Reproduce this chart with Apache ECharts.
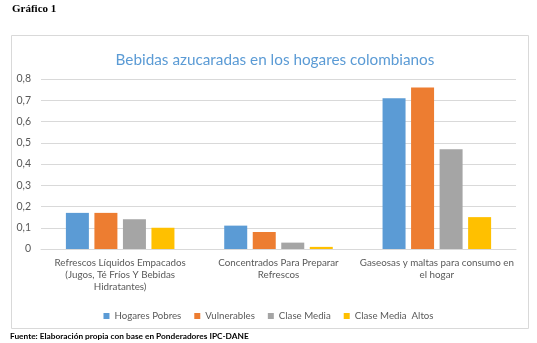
<!DOCTYPE html>
<html><head><meta charset="utf-8">
<script src="https://cdn.jsdelivr.net/npm/echarts@6/dist/echarts.min.js"></script>
<style>html,body{margin:0;padding:0;background:#fff}#c{width:537px;height:343px}</style>
</head><body><div id="c"></div>
<script>
const categories = ["Refrescos Líquidos Empacados\n(Jugos, Té Fríos Y Bebidas\nHidratantes)", "Concentrados Para Preparar\nRefrescos", "Gaseosas y maltas para consumo en\nel hogar"];
const seriesNames = ["Hogares Pobres", "Vulnerables", "Clase Media", "Clase Media  Altos"];
const hogaresPobres = [0.17, 0.11, 0.71];
const vulnerables = [0.17, 0.08, 0.76];
const claseMedia = [0.14, 0.03, 0.47];
const claseMediaAltos = [0.10, 0.01, 0.15];
const colors = ["#5B9BD5", "#ED7D31", "#A5A5A5", "#FFC000"];
const values = [hogaresPobres, vulnerables, claseMedia, claseMediaAltos];

const chart = echarts.init(document.getElementById('c'), null, {renderer: 'canvas'});
const font = "Lato, Open Sans, sans-serif";
chart.setOption({
  animation: false,
  title: {
    text: "Bebidas azucaradas en los hogares colombianos",
    left: 270, top: 48, textAlign: 'center',
    textStyle: {color: '#5B9BD5', fontSize: 15.3, fontWeight: 'normal', fontFamily: font}
  },
  graphic: [
    {type: 'rect', shape: {x: 11.5, y: 35.5, width: 517, height: 293}, style: {fill: 'none', stroke: '#D9D9D9', lineWidth: 1}, z: -1},
    {type: 'text', left: 12, top: 4, style: {text: 'Gráfico 1', font: 'bold 11px "Liberation Serif", serif', fill: '#000'}},
    {type: 'text', left: 10, top: 332, style: {text: 'Fuente: Elaboración propia con base en Ponderadores IPC-DANE', font: 'bold 8.3px Lato, sans-serif', fill: '#000'}}
  ],
  legend: {
    data: seriesNames, top: 306, left: 'center', itemWidth: 6, itemHeight: 6, itemGap: 13,
    icon: 'rect',
    textStyle: {color: '#595959', fontSize: 9.7, fontFamily: font}
  },
  grid: {left: 41, right: 21, top: 79, bottom: 94, containLabel: false},
  xAxis: {
    type: 'category', data: categories,
    axisLine: {lineStyle: {color: '#D9D9D9'}}, axisTick: {show: false},
    axisLabel: {interval: 0, color: '#595959', fontSize: 9.8, fontFamily: font, lineHeight: 12, margin: 8}
  },
  yAxis: {
    type: 'value', min: 0, max: 0.8, interval: 0.1,
    axisLine: {show: false}, axisTick: {show: false},
    splitLine: {lineStyle: {color: '#D9D9D9'}},
    axisLabel: {color: '#595959', fontSize: 10.5, fontFamily: font, margin: 10,
      formatter: v => v === 0 ? '0' : v.toFixed(1).replace('.', ',')}
  },
  series: seriesNames.map((n, i) => ({
    name: n, type: 'bar', data: values[i], barWidth: 23, barGap: '24%',
    itemStyle: {color: colors[i]}
  }))
});
</script></body></html>
